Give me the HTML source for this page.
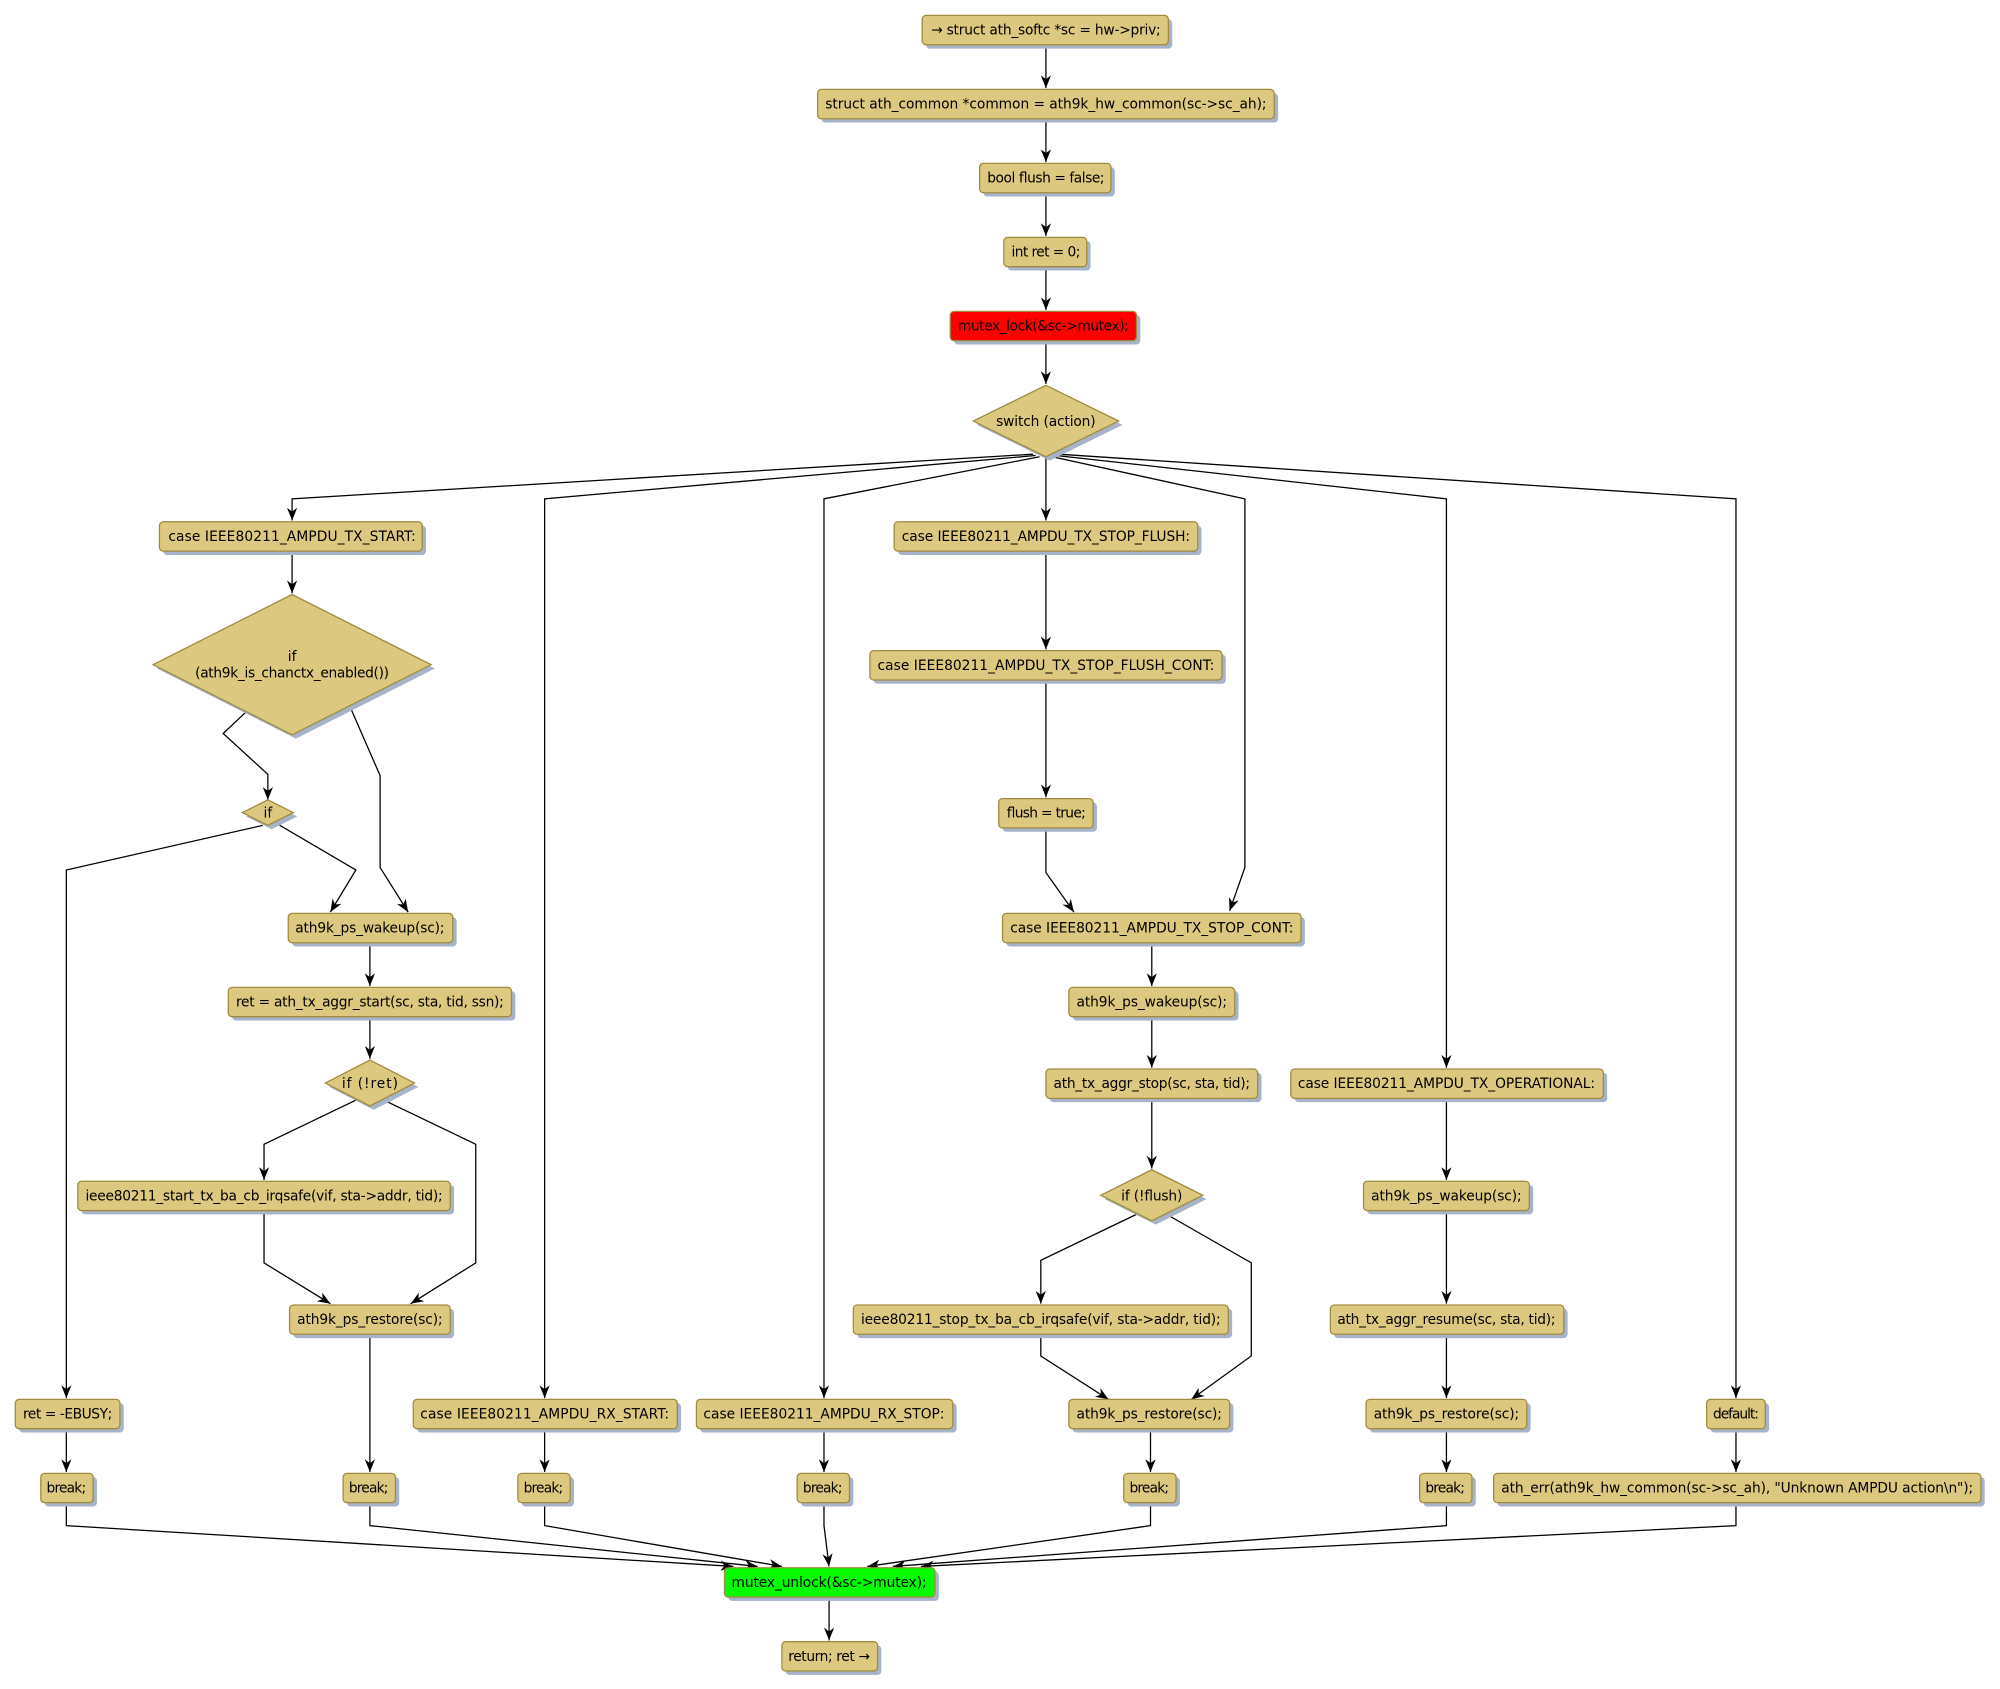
<!DOCTYPE html>
<html><head><meta charset="utf-8"><style>
html,body{margin:0;padding:0;background:#fff;}
svg{display:block;}
text{font-family:"DejaVu Sans","Liberation Sans",sans-serif;font-size:10.8px;fill:#000;}
.b{fill:#dcc87e;stroke:#a08a3e;stroke-width:1;}
.s{fill:#a7b3c9;}
.l{fill:none;stroke:#000;stroke-width:1;}
</style></head><body>
<svg width="2000" height="1689" viewBox="0 0 1568 1324" xmlns="http://www.w3.org/2000/svg">
<defs><marker id="a" viewBox="0 0 10 10" refX="10" refY="5" markerWidth="10" markerHeight="10" markerUnits="userSpaceOnUse" orient="auto"><path d="M0,1 L10,5 L0,9 L3,5 z" fill="#000"/></marker></defs>

<g class="l" marker-end="url(#a)">
<path d="M820,35 V69"/>
<path d="M820,93 V127"/>
<path d="M820,151 V185"/>
<path d="M820,209 V243"/>
<path d="M820,267 V301"/>
<path d="M810,356 L229,391 V408"/>
<path d="M812,357 L427,391 V1096"/>
<path d="M815,358 L646,391 V1096"/>
<path d="M820,358 V408"/>
<path d="M825,358 L976,391 V680 L964,714"/>
<path d="M828,357 L1134,391 V837"/>
<path d="M830,356 L1361,391 V1096"/>
<path d="M229,432 V465"/>
<path d="M193,558 L175,575 L210,607 V627"/>
<path d="M274,553 L298,608 V680 L320,715"/>
<path d="M206,647 L52,682 V1096"/>
<path d="M216,645 L279,682 L259,715"/>
<path d="M290,739 V773"/>
<path d="M290,797 V830"/>
<path d="M280,862 L207,897 V925"/>
<path d="M300,862 L373,897 V990 L322,1022"/>
<path d="M207,949 V990 L259,1022"/>
<path d="M290,1046 V1154"/>
<path d="M52,1120 V1154"/>
<path d="M427,1120 V1154"/>
<path d="M646,1120 V1154"/>
<path d="M820,432 V509"/>
<path d="M820,533 V625"/>
<path d="M820,649 V684 L842,715"/>
<path d="M903,739 V773"/>
<path d="M903,797 V837"/>
<path d="M903,861 V916"/>
<path d="M893,951 L816,988 V1022"/>
<path d="M913,951 L981,990 V1063 L934,1097"/>
<path d="M816,1046 V1063 L869,1097"/>
<path d="M902,1120 V1154"/>
<path d="M1134,861 V925"/>
<path d="M1134,949 V1022"/>
<path d="M1134,1046 V1096"/>
<path d="M1134,1120 V1154"/>
<path d="M1361,1120 V1154"/>
<path d="M52,1178 V1196 L575,1228"/>
<path d="M290,1178 V1196 L594,1228"/>
<path d="M427,1178 V1196 L613,1228"/>
<path d="M646,1178 V1196 L650,1228"/>
<path d="M902,1178 V1196 L680,1228"/>
<path d="M1134,1178 V1196 L700,1228"/>
<path d="M1361,1178 V1196 L722,1228"/>
<path d="M650,1252 V1286"/>
</g>

<g class="s">
<rect x="726" y="15" width="193" height="23" rx="3"/>
<rect x="644" y="73" width="358" height="23" rx="3"/>
<rect x="771" y="131" width="103" height="23" rx="3"/>
<rect x="790" y="189" width="65" height="23" rx="3"/>
<rect x="748" y="247" width="146" height="23" rx="3"/>
<polygon points="766,333 823,305 880,333 823,361"/>
<rect x="128" y="412" width="206" height="23" rx="3"/>
<polygon points="123,524 232,469 341,524 232,579"/>
<polygon points="193,640 213,630 233,640 213,650"/>
<rect x="229" y="719" width="129" height="23" rx="3"/>
<rect x="182" y="777" width="222" height="23" rx="3"/>
<polygon points="258,852 293,834 328,852 293,870"/>
<rect x="64" y="929" width="292" height="23" rx="3"/>
<rect x="230" y="1026" width="126" height="23" rx="3"/>
<rect x="15" y="1100" width="82" height="23" rx="3"/>
<rect x="35" y="1158" width="41" height="23" rx="3"/>
<rect x="272" y="1158" width="41" height="23" rx="3"/>
<rect x="327" y="1100" width="207" height="23" rx="3"/>
<rect x="409" y="1158" width="41" height="23" rx="3"/>
<rect x="549" y="1100" width="201" height="23" rx="3"/>
<rect x="628" y="1158" width="41" height="23" rx="3"/>
<rect x="704" y="412" width="238" height="23" rx="3"/>
<rect x="685" y="513" width="276" height="23" rx="3"/>
<rect x="786" y="629" width="74" height="23" rx="3"/>
<rect x="789" y="719" width="234" height="23" rx="3"/>
<rect x="841" y="777" width="130" height="23" rx="3"/>
<rect x="823" y="841" width="166" height="23" rx="3"/>
<polygon points="866,940 906,920 946,940 906,960"/>
<rect x="672" y="1026" width="294" height="23" rx="3"/>
<rect x="841" y="1100" width="126" height="23" rx="3"/>
<rect x="884" y="1158" width="41" height="23" rx="3"/>
<rect x="1015" y="841" width="245" height="23" rx="3"/>
<rect x="1072" y="929" width="130" height="23" rx="3"/>
<rect x="1046" y="1026" width="183" height="23" rx="3"/>
<rect x="1074" y="1100" width="126" height="23" rx="3"/>
<rect x="1116" y="1158" width="41" height="23" rx="3"/>
<rect x="1341" y="1100" width="46" height="23" rx="3"/>
<rect x="1174" y="1158" width="382" height="23" rx="3"/>
<rect x="571" y="1232" width="165" height="23" rx="3"/>
<rect x="616" y="1290" width="75" height="23" rx="3"/>
</g>

<g class="b">
<rect x="723" y="12" width="193" height="23" rx="3"/>
<rect x="641" y="70" width="358" height="23" rx="3"/>
<rect x="768" y="128" width="103" height="23" rx="3"/>
<rect x="787" y="186" width="65" height="23" rx="3"/>
<rect x="745" y="244" width="146" height="23" rx="3" style="fill:#ff0000"/>
<polygon points="763,330 820,302 877,330 820,358"/>
<rect x="125" y="409" width="206" height="23" rx="3"/>
<polygon points="120,521 229,466 338,521 229,576"/>
<polygon points="190,637 210,627 230,637 210,647"/>
<rect x="226" y="716" width="129" height="23" rx="3"/>
<rect x="179" y="774" width="222" height="23" rx="3"/>
<polygon points="255,849 290,831 325,849 290,867"/>
<rect x="61" y="926" width="292" height="23" rx="3"/>
<rect x="227" y="1023" width="126" height="23" rx="3"/>
<rect x="12" y="1097" width="82" height="23" rx="3"/>
<rect x="32" y="1155" width="41" height="23" rx="3"/>
<rect x="269" y="1155" width="41" height="23" rx="3"/>
<rect x="324" y="1097" width="207" height="23" rx="3"/>
<rect x="406" y="1155" width="41" height="23" rx="3"/>
<rect x="546" y="1097" width="201" height="23" rx="3"/>
<rect x="625" y="1155" width="41" height="23" rx="3"/>
<rect x="701" y="409" width="238" height="23" rx="3"/>
<rect x="682" y="510" width="276" height="23" rx="3"/>
<rect x="783" y="626" width="74" height="23" rx="3"/>
<rect x="786" y="716" width="234" height="23" rx="3"/>
<rect x="838" y="774" width="130" height="23" rx="3"/>
<rect x="820" y="838" width="166" height="23" rx="3"/>
<polygon points="863,937 903,917 943,937 903,957"/>
<rect x="669" y="1023" width="294" height="23" rx="3"/>
<rect x="838" y="1097" width="126" height="23" rx="3"/>
<rect x="881" y="1155" width="41" height="23" rx="3"/>
<rect x="1012" y="838" width="245" height="23" rx="3"/>
<rect x="1069" y="926" width="130" height="23" rx="3"/>
<rect x="1043" y="1023" width="183" height="23" rx="3"/>
<rect x="1071" y="1097" width="126" height="23" rx="3"/>
<rect x="1113" y="1155" width="41" height="23" rx="3"/>
<rect x="1338" y="1097" width="46" height="23" rx="3"/>
<rect x="1171" y="1155" width="382" height="23" rx="3"/>
<rect x="568" y="1229" width="165" height="23" rx="3" style="fill:#00ff00"/>
<rect x="613" y="1287" width="75" height="23" rx="3"/>
</g>

<g text-anchor="middle" lengthAdjust="spacingAndGlyphs">
<text x="820" y="27" textLength="180">→ struct ath_softc *sc = hw-&gt;priv;</text>
<text x="820" y="85" textLength="346">struct ath_common *common = ath9k_hw_common(sc-&gt;sc_ah);</text>
<text x="820" y="143" textLength="92">bool flush = false;</text>
<text x="820" y="201" textLength="54">int ret = 0;</text>
<text x="818" y="259" textLength="134">mutex_lock(&amp;sc-&gt;mutex);</text>
<text x="820" y="334" textLength="78">switch (action)</text>
<text x="229" y="424" textLength="194">case IEEE80211_AMPDU_TX_START:</text>
<text x="229" y="518">if</text>
<text x="229" y="531" textLength="152">(ath9k_is_chanctx_enabled())</text>
<text x="210" y="641">if</text>
<text x="290" y="731" textLength="117">ath9k_ps_wakeup(sc);</text>
<text x="290" y="789" textLength="210">ret = ath_tx_aggr_start(sc, sta, tid, ssn);</text>
<text x="290" y="853" textLength="44">if (!ret)</text>
<text x="207" y="941" textLength="280">ieee80211_start_tx_ba_cb_irqsafe(vif, sta-&gt;addr, tid);</text>
<text x="290" y="1038" textLength="114">ath9k_ps_restore(sc);</text>
<text x="53" y="1112" textLength="70">ret = -EBUSY;</text>
<text x="52" y="1170" textLength="31">break;</text>
<text x="289" y="1170" textLength="31">break;</text>
<text x="427" y="1112" textLength="195">case IEEE80211_AMPDU_RX_START:</text>
<text x="426" y="1170" textLength="31">break;</text>
<text x="646" y="1112" textLength="189">case IEEE80211_AMPDU_RX_STOP:</text>
<text x="645" y="1170" textLength="31">break;</text>
<text x="820" y="424" textLength="226">case IEEE80211_AMPDU_TX_STOP_FLUSH:</text>
<text x="820" y="525" textLength="264">case IEEE80211_AMPDU_TX_STOP_FLUSH_CONT:</text>
<text x="820" y="641" textLength="62">flush = true;</text>
<text x="903" y="731" textLength="222">case IEEE80211_AMPDU_TX_STOP_CONT:</text>
<text x="903" y="789" textLength="118">ath9k_ps_wakeup(sc);</text>
<text x="903" y="853" textLength="154">ath_tx_aggr_stop(sc, sta, tid);</text>
<text x="903" y="941" textLength="48">if (!flush)</text>
<text x="816" y="1038" textLength="282">ieee80211_stop_tx_ba_cb_irqsafe(vif, sta-&gt;addr, tid);</text>
<text x="901" y="1112" textLength="114">ath9k_ps_restore(sc);</text>
<text x="901" y="1170" textLength="31">break;</text>
<text x="1134" y="853" textLength="233">case IEEE80211_AMPDU_TX_OPERATIONAL:</text>
<text x="1134" y="941" textLength="118">ath9k_ps_wakeup(sc);</text>
<text x="1134" y="1038" textLength="171">ath_tx_aggr_resume(sc, sta, tid);</text>
<text x="1134" y="1112" textLength="114">ath9k_ps_restore(sc);</text>
<text x="1133" y="1170" textLength="31">break;</text>
<text x="1361" y="1112" textLength="36">default:</text>
<text x="1362" y="1170" textLength="370">ath_err(ath9k_hw_common(sc-&gt;sc_ah), "Unknown AMPDU action\n");</text>
<text x="650" y="1244" textLength="153">mutex_unlock(&amp;sc-&gt;mutex);</text>
<text x="650" y="1302" textLength="64">return; ret →</text>
</g>
</svg>
</body></html>
